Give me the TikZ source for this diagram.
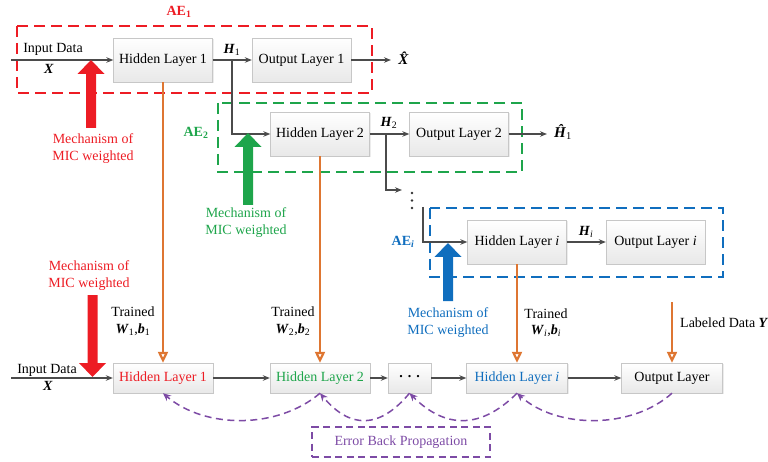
\documentclass[tikz,border=0pt]{standalone}
\usepackage{fontspec}
\setmainfont{Liberation Serif}
\usetikzlibrary{arrows.meta,calc,shadows}
\definecolor{cRed}{RGB}{237,28,36}
\definecolor{cGreen}{RGB}{30,165,75}
\definecolor{cBlue}{RGB}{16,110,190}
\definecolor{cOrange}{RGB}{222,118,50}
\definecolor{cPurple}{RGB}{125,75,165}
\definecolor{cLine}{RGB}{75,75,75}
\newcommand\fatarrow[5]{%
  \fill[#1] (#2-5,#5) -- (#2-5,#4) -- (#2-13.5,#4) -- (#2,#3) -- (#2+13.5,#4) -- (#2+5,#4) -- (#2+5,#5) -- cycle;}
\newcommand\bi[1]{\textbf{\textit{#1}}}
\tikzset{
  layer/.style={draw=black!22, top color=white, bottom color=black!9, inner sep=0pt,
     minimum width=99pt, minimum height=44pt, font=\fontsize{14}{16}\selectfont,
     drop shadow={opacity=0.15, shadow xshift=1pt, shadow yshift=-1pt}},
  blayer/.style={layer, minimum height=30pt},
  conn/.style={draw=cLine, line width=1.1pt, -{Stealth[length=7pt,width=5.5pt]}},
  aebox/.style={line width=2pt, dash pattern=on 11pt off 6pt},
  lbl/.style={font=\fontsize{14}{17}\selectfont, inner sep=0pt, align=center},
  train/.style={draw=cOrange, line width=2.2pt, -{Triangle[open, length=11pt, width=10pt]}},
  bp/.style={draw=cPurple, line width=1.5pt, dash pattern=on 7pt off 4.5pt,
     -{Stealth[length=8pt,width=7pt]}},
}
\begin{document}
\begin{tikzpicture}[x=1pt,y=-1pt]
\useasboundingbox (0,0) rectangle (768,462);
% dashed AE boxes
\draw[aebox, cRed] (17,26) rectangle (372,93);
\draw[aebox, cGreen] (218,103) rectangle (522,172);
\draw[aebox, cBlue] (430,208) rectangle (723,277);
\node[lbl, text=cRed, font=\fontsize{14}{17}\selectfont\bfseries] (ae1) at (179,12) {AE\textsubscript{1}};
\node[lbl, text=cGreen, font=\fontsize{14}{17}\selectfont\bfseries] (ae2) at (196,133) {AE\textsubscript{2}};
\node[lbl, text=cBlue, font=\fontsize{14}{17}\selectfont\bfseries] (aei) at (403,242) {AE\textsubscript{\textit{i}}};
% top row nodes
\node[layer] (HL1) at (163,60) {Hidden Layer 1};
\node[layer] (OL1) at (301.5,60) {Output Layer 1};
\node[layer] (HL2) at (320,134) {Hidden Layer 2};
\node[layer] (OL2) at (459,134) {Output Layer 2};
\node[layer] (HLi) at (517,242) {Hidden Layer \textit{i}};
\node[layer] (OLi) at (655.5,242) {Output Layer \textit{i}};
% bottom row nodes
\node[blayer, minimum width=100pt, text=cRed] (B1) at (163,378) {Hidden Layer 1};
\node[blayer, minimum width=100pt, text=cGreen] (B2) at (320,378) {Hidden Layer 2};
\node[blayer, minimum width=43pt] (BD) at (409.5,378) {\raisebox{0.22em}{\bfseries .\hspace{5pt}.\hspace{5pt}.}};
\node[blayer, minimum width=101pt, text=cBlue] (Bi) at (517,378) {Hidden Layer \textit{i}};
\node[blayer, minimum width=101pt] (BO) at (672,378) {Output Layer};
% coordinates
\coordinate (in1) at (11,60);
\coordinate (in2) at (11,378);
\coordinate (xh) at (391,60);
\coordinate (hh) at (547,134);
\coordinate (b1) at (232,60);
\coordinate (b2) at (386,134);
\coordinate (d2) at (402,190);
\coordinate (b3) at (423,207);
\coordinate (ly) at (672,302);
% top connectors
\draw[conn] (in1) -- (HL1.west);
\draw[conn] (HL1.east) -- (OL1.west);
\draw[conn] (OL1.east) -- (xh);
\draw[conn] (b1) |- (HL2.west);
\draw[conn] (HL2.east) -- (OL2.west);
\draw[conn] (OL2.east) -- (hh);
\draw[conn] (b2) |- (d2);
\draw[conn] (b3) |- (HLi.west);
\draw[conn] (HLi.east) -- (OLi.west);
\foreach \yy in {193,200.5,208} \fill[black!80] (412,\yy) circle (1.4pt);
% top labels
\node[lbl] (id1) at (53,49) {Input Data};
\node[lbl] (x1) at (49,69) {\bi{X}};
\node[lbl] (h1) at (232,50) {\bi{H}\textsubscript{1}};
\node[lbl] (h2) at (389,123) {\bi{H}\textsubscript{2}};
\node[lbl] (hi) at (586,232) {\bi{H}\textsubscript{\textit{i}}};
\node[lbl, font=\fontsize{15}{17}\selectfont] (xhat) at (405,58) {\bi{\^{X}}};
\node[lbl, font=\fontsize{15}{17}\selectfont] (hhat) at (563,132) {\bi{\^{H}}\textsubscript{1}};
% bottom connectors
\draw[conn] (in2) -- (B1.west);
\draw[conn] (B1.east) -- (B2.west);
\draw[conn] (B2.east) -- (BD.west);
\draw[conn] (BD.east) -- (Bi.west);
\draw[conn] (Bi.east) -- (BO.west);
\node[lbl] (id2) at (47,370) {Input Data};
\node[lbl] (x2) at (48,386) {\bi{X}};
% orange trained connectors
\draw[train] (HL1.south) -- (B1.north);
\draw[train] (HL2.south) -- (B2.north);
\draw[train] (HLi.south) -- (Bi.north);
\draw[train] (ly) -- (BO.north);
\node[lbl] (t1) at (133,312) {Trained};
\node[lbl] (w1) at (133,330) {\bi{W}\textsubscript{1},\bi{b}\textsubscript{1}};
\node[lbl] (t2) at (293,312) {Trained};
\node[lbl] (w2) at (293,330) {\bi{W}\textsubscript{2},\bi{b}\textsubscript{2}};
\node[lbl] (t3) at (546,314) {Trained};
\node[lbl] (w3) at (546,331) {\bi{W}\textsubscript{\textit{i}},\bi{b}\textsubscript{\textit{i}}};
\node[lbl, anchor=west] (ldy) at (680,323) {Labeled Data \bi{Y}};
% fat arrows
\fatarrow{cRed}{91}{60}{74}{128}
\fatarrow{cRed}{92.5}{377}{363}{295}
\fatarrow{cGreen}{248}{133}{147}{205}
\fatarrow{cBlue}{448}{243}{257}{301}
\node[lbl, text=cRed] (m1) at (93,148.5) {Mechanism of\\MIC weighted};
\node[lbl, text=cRed] (m2) at (89,275.5) {Mechanism of\\MIC weighted};
\node[lbl, text=cGreen] (m3) at (246,223) {Mechanism of\\MIC weighted};
\node[lbl, text=cBlue] (m4) at (448,323) {Mechanism of\\MIC weighted};
% back propagation
\draw[bp] (BO.south) .. controls ($(BO.south)+(-40,36)$) and ($(Bi.south)+(40,36)$) .. (Bi.south);
\draw[bp] (Bi.south) .. controls ($(Bi.south)+(-36,36)$) and ($(BD.south)+(36,36)$) .. (BD.south);
\draw[bp] (BD.south) .. controls ($(BD.south)+(-30,36)$) and ($(B2.south)+(30,36)$) .. (B2.south);
\draw[bp] (B2.south) .. controls ($(B2.south)+(-42,36)$) and ($(B1.south)+(42,36)$) .. (B1.south);
\node[draw=cPurple, line width=1.5pt, dash pattern=on 7pt off 4.5pt, minimum width=178pt,
  minimum height=30pt, text=cPurple, font=\fontsize{14}{16}\selectfont] (ebp) at (401,442) {Error Back Propagation};
\end{tikzpicture}
\end{document}
